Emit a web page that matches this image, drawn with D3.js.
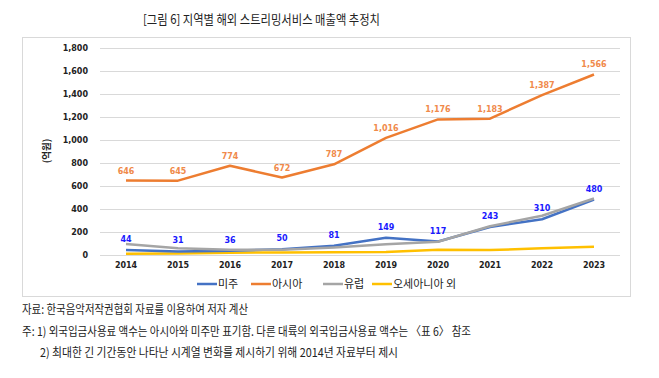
<!DOCTYPE html>
<html><head><meta charset="utf-8">
<script src="https://cdn.jsdelivr.net/npm/d3@7"></script>
<style>body{margin:0;background:#fff;}svg{display:block;font-family:"Noto Sans CJK KR","Noto Sans",sans-serif;}</style>
</head><body>
<svg id="c" width="659" height="378"></svg>
<script>
const years = ["2014","2015","2016","2017","2018","2019","2020","2021","2022","2023"];
const americas = [44,31,36,50,81,149,117,243,310,480];
const asia = [646,645,774,672,787,1016,1176,1183,1387,1566];
const europe = [95,58,45,45,65,93,115,250,340,490];
const oceania = [10,12,20,22,23,25,45,43,58,72];
const yTicks = [0,200,400,600,800,1000,1200,1400,1600,1800];
const seriesNames = ["미주","아시아","유럽","오세아니아 외"];
const title = "[그림 6] 지역별 해외 스트리밍서비스 매출액 추정치";
const notes = ["자료: 한국음악저작권협회 자료를 이용하여 저자 계산",
 "주: 1) 외국입금사용료 액수는 아시아와 미주만 표기함. 다른 대륙의 외국입금사용료 액수는 〈표 6〉 참조",
 "2) 최대한 긴 기간동안 나타난 시계열 변화를 제시하기 위해 2014년 자료부터 제시"];

const numFont = "'DejaVu Sans', Verdana, sans-serif";
const svg = d3.select("#c");
const x = d3.scaleBand().domain(years).range([100,620]);
const y = d3.scaleLinear().domain([0,1800]).range([255,47.5]);
const cx = d => x(d) + x.bandwidth()/2;

svg.append("text").attr("x",143).attr("y",24)
  .attr("font-size",13).attr("fill","#222")
  .attr("textLength",237).attr("lengthAdjust","spacingAndGlyphs").text(title);

svg.append("rect").attr("x",22.5).attr("y",37.5).attr("width",608).attr("height",259)
  .attr("fill","#fff").attr("stroke","#d9d9d9");

const g = svg.append("g");
g.selectAll("line.grid").data(yTicks).join("line")
  .attr("x1",100).attr("x2",620).attr("y1",d=>Math.round(y(d))+0.5).attr("y2",d=>Math.round(y(d))+0.5)
  .attr("stroke","#d9d9d9").attr("stroke-width",1);

const yAxis = d3.axisLeft(y).tickValues(yTicks).tickFormat(d3.format(",")).tickSize(0).tickPadding(0);
const ya = svg.append("g").attr("transform","translate(88,0)").call(yAxis);
ya.select(".domain").remove();
ya.selectAll("text").attr("font-size",8).attr("font-weight","bold").attr("fill","#222")
  .attr("font-family",numFont);

const xAxis = d3.axisBottom(x).tickSize(0).tickPadding(0);
const xa = svg.append("g").attr("transform","translate(0,262)").call(xAxis);
xa.select(".domain").remove();
xa.selectAll("text").attr("font-size",8).attr("font-weight","bold").attr("fill","#222")
  .attr("font-family",numFont);

svg.append("text").attr("transform","translate(50,151) rotate(-90)").attr("text-anchor","middle")
  .attr("font-size",9.5).attr("font-weight","bold").attr("fill","#222").text("(억원)");

const line = d3.line().x((d,i)=>cx(years[i])).y(d=>y(d));
const series = [
  {name:seriesNames[0], vals:americas, color:"#4472C4"},
  {name:seriesNames[1], vals:asia, color:"#ED7D31"},
  {name:seriesNames[2], vals:europe, color:"#A5A5A5"},
  {name:seriesNames[3], vals:oceania, color:"#FFC000"}
];
const drawOrder = [3,0,2,1];
drawOrder.forEach(i=>{
  g.append("path").datum(series[i].vals).attr("d",line).attr("fill","none")
    .attr("stroke",series[i].color).attr("stroke-width",2.5).attr("stroke-linejoin","round");
});

const fmt = d3.format(",");
g.selectAll("text.asia").data(asia).join("text")
  .attr("x",(d,i)=>cx(years[i])).attr("y",d=>y(d)-7).attr("text-anchor","middle")
  .attr("font-size",8).attr("font-weight","bold").attr("fill","#F08A4B")
  .attr("font-family",numFont).text(d=>fmt(d));
g.selectAll("text.am").data(americas).join("text")
  .attr("x",(d,i)=>cx(years[i])).attr("y",d=>y(d)-8).attr("text-anchor","middle")
  .attr("font-size",8).attr("font-weight","bold").attr("fill","#1a1aff")
  .attr("font-family",numFont).text(d=>fmt(d));

const legX = [197, 251, 323, 372];
series.forEach((s,i)=>{
  svg.append("line").attr("x1",legX[i]).attr("x2",legX[i]+20).attr("y1",284).attr("y2",284)
    .attr("stroke",s.color).attr("stroke-width",2.5);
  svg.append("text").attr("x",legX[i]+21).attr("y",288).attr("font-size",11).attr("fill","#222")
    .text(s.name);
});

svg.append("text").attr("x",22).attr("y",314).attr("font-size",12).attr("fill","#222")
  .attr("textLength",226).attr("lengthAdjust","spacingAndGlyphs").text(notes[0]);
svg.append("text").attr("x",22).attr("y",336).attr("font-size",12).attr("fill","#222")
  .attr("textLength",449).attr("lengthAdjust","spacingAndGlyphs").text(notes[1]);
svg.append("text").attr("x",40).attr("y",357).attr("font-size",12).attr("fill","#222")
  .attr("textLength",358).attr("lengthAdjust","spacingAndGlyphs").text(notes[2]);
</script>
</body></html>
